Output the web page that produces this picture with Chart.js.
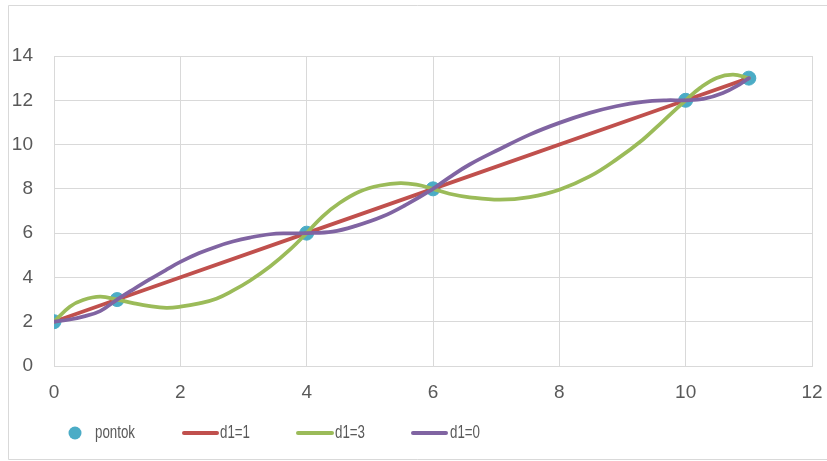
<!DOCTYPE html>
<html>
<head>
<meta charset="utf-8">
<script src="https://cdn.jsdelivr.net/npm/chart.js@4"></script>
<style>
  html, body { margin: 0; padding: 0; background: #fff; }
</style>
</head>
<body>
<canvas id="chart" width="827" height="461"></canvas>
<script>
// measured nodes
const pontokX = [0, 1, 4, 6, 10, 11];
const pontokY = [2, 3, 6, 8, 12, 13];

// d1=3 curve, sampled
const d3X = [0, 0.25, 0.46, 0.73, 1, 1.25, 1.52, 1.78, 2, 2.3, 2.57, 2.83, 3.1, 3.42, 3.73, 4,
             4.25, 4.52, 4.84, 5.16, 5.48, 5.74, 6, 6.26, 6.58, 7.06, 7.53, 8, 8.48, 8.9,
             9.32, 9.64, 10, 10.23, 10.49, 10.75, 11];
const d3Y = [2, 2.68, 2.98, 3.13, 3, 2.84, 2.7, 2.63, 2.68, 2.83, 3.04, 3.4, 3.85, 4.49, 5.24, 6,
             6.75, 7.36, 7.88, 8.15, 8.26, 8.19, 8, 7.78, 7.62, 7.51, 7.63, 7.96, 8.56, 9.32,
             10.22, 11.05, 12, 12.56, 13.01, 13.16, 13];

// d1=0 curve, sampled
const d0X = [0, 0.25, 0.46, 0.73, 1, 1.25, 1.52, 1.78, 2, 2.3, 2.57, 2.83, 3.1, 3.42, 3.7, 4,
             4.41, 4.78, 5.2, 5.57, 6, 6.26, 6.58, 7.06, 7.53, 8, 8.48, 8.9, 9.32, 9.69,
             10, 10.28, 10.59, 10.85, 11];
const d0Y = [2, 2.1, 2.23, 2.48, 3, 3.45, 3.92, 4.35, 4.7, 5.1, 5.39, 5.62, 5.8, 5.95, 5.99, 6,
             6.07, 6.33, 6.75, 7.28, 8, 8.52, 9.1, 9.8, 10.45, 10.98, 11.43, 11.73, 11.93, 12,
             12, 12.06, 12.33, 12.71, 13];

const seriesNames = ['pontok', 'd1=1', 'd1=3', 'd1=0'];
const seriesColors = ['#4bacc6', '#c0504d', '#9bbb59', '#8064a2'];

const xMin = 0, xMax = 12, xStep = 2;
const yMin = 0, yMax = 14, yStep = 2;

const FONT = '"Liberation Sans", Arial, sans-serif';
const TEXT = '#595959';
const GRID = '#d9d9d9';

function pts(xs, ys) {
  return xs.map((x, i) => ({ x: x, y: ys[i] }));
}

// outer frame of the chart object
const frame = {
  id: 'frame',
  beforeDraw(chart) {
    const ctx = chart.ctx;
    ctx.save();
    ctx.fillStyle = '#fff';
    ctx.fillRect(0, 0, chart.width, chart.height);
    ctx.strokeStyle = GRID;
    ctx.lineWidth = 1;
    ctx.beginPath();
    ctx.moveTo(chart.width, 5.5);
    ctx.lineTo(8.5, 5.5);
    ctx.lineTo(8.5, 459.5);
    ctx.lineTo(chart.width, 459.5);
    ctx.stroke();
    ctx.restore();
  }
};

// legend row under the x axis (narrow text, like the office font)
function narrowText(ctx, str, x, y) {
  ctx.save();
  ctx.translate(x, y);
  ctx.scale(0.74, 1);
  ctx.fillText(str, 0, 0);
  ctx.restore();
}

const bottomLegend = {
  id: 'bottomLegend',
  afterDraw(chart) {
    const ctx = chart.ctx;
    const y = 433;
    ctx.save();
    ctx.font = '18px ' + FONT;
    ctx.textBaseline = 'middle';
    ctx.textAlign = 'left';

    ctx.fillStyle = seriesColors[0];
    ctx.beginPath();
    ctx.arc(75, y, 6.5, 0, Math.PI * 2);
    ctx.fill();
    ctx.fillStyle = TEXT;
    narrowText(ctx, seriesNames[0], 95, y);

    const lines = [[184, 217, 220], [298, 332, 335], [413, 446, 450]];
    lines.forEach((l, i) => {
      ctx.strokeStyle = seriesColors[i + 1];
      ctx.lineWidth = 4;
      ctx.lineCap = 'round';
      ctx.beginPath();
      ctx.moveTo(l[0], y);
      ctx.lineTo(l[1], y);
      ctx.stroke();
      ctx.fillStyle = TEXT;
      narrowText(ctx, seriesNames[i + 1], l[2], y);
    });
    ctx.restore();
  }
};

const lineStyle = {
  showLine: true,
  pointRadius: 0,
  pointHoverRadius: 0,
  borderWidth: 3.75,
  fill: false,
  borderCapStyle: 'round'
};

new Chart(document.getElementById('chart'), {
  type: 'scatter',
  data: {
    datasets: [
      {
        label: seriesNames[0],
        data: pts(pontokX, pontokY),
        backgroundColor: seriesColors[0],
        borderColor: seriesColors[0],
        pointRadius: 7,
        order: 3
      },
      Object.assign({
        label: seriesNames[1],
        data: pts(pontokX, pontokY),
        borderColor: seriesColors[1],
        tension: 0,
        order: 2
      }, lineStyle),
      Object.assign({
        label: seriesNames[2],
        data: pts(d3X, d3Y),
        borderColor: seriesColors[2],
        tension: 0.4,
        order: 1
      }, lineStyle),
      Object.assign({
        label: seriesNames[3],
        data: pts(d0X, d0Y),
        borderColor: seriesColors[3],
        tension: 0.4,
        order: 0
      }, lineStyle)
    ]
  },
  options: {
    responsive: false,
    animation: false,
    layout: { padding: { left: 8, top: 56, right: 15, bottom: 0 } },
    plugins: {
      legend: { display: false },
      tooltip: { enabled: false }
    },
    scales: {
      x: {
        type: 'linear',
        min: xMin,
        max: xMax,
        ticks: { stepSize: xStep, color: TEXT, font: { family: FONT, size: 19 }, padding: 15 },
        grid: { color: GRID, drawTicks: false },
        border: { color: GRID },
        afterFit: s => { s.height = 95; s.paddingLeft = 0; s.paddingRight = 0; }
      },
      y: {
        type: 'linear',
        min: yMin,
        max: yMax,
        ticks: { stepSize: yStep, color: TEXT, font: { family: FONT, size: 19 }, padding: 21 },
        grid: { color: GRID, drawTicks: false },
        border: { color: GRID },
        afterFit: s => { s.width = 46; s.paddingTop = 0; s.paddingBottom = 0; }
      }
    }
  },
  plugins: [frame, bottomLegend]
});
</script>
</body>
</html>
